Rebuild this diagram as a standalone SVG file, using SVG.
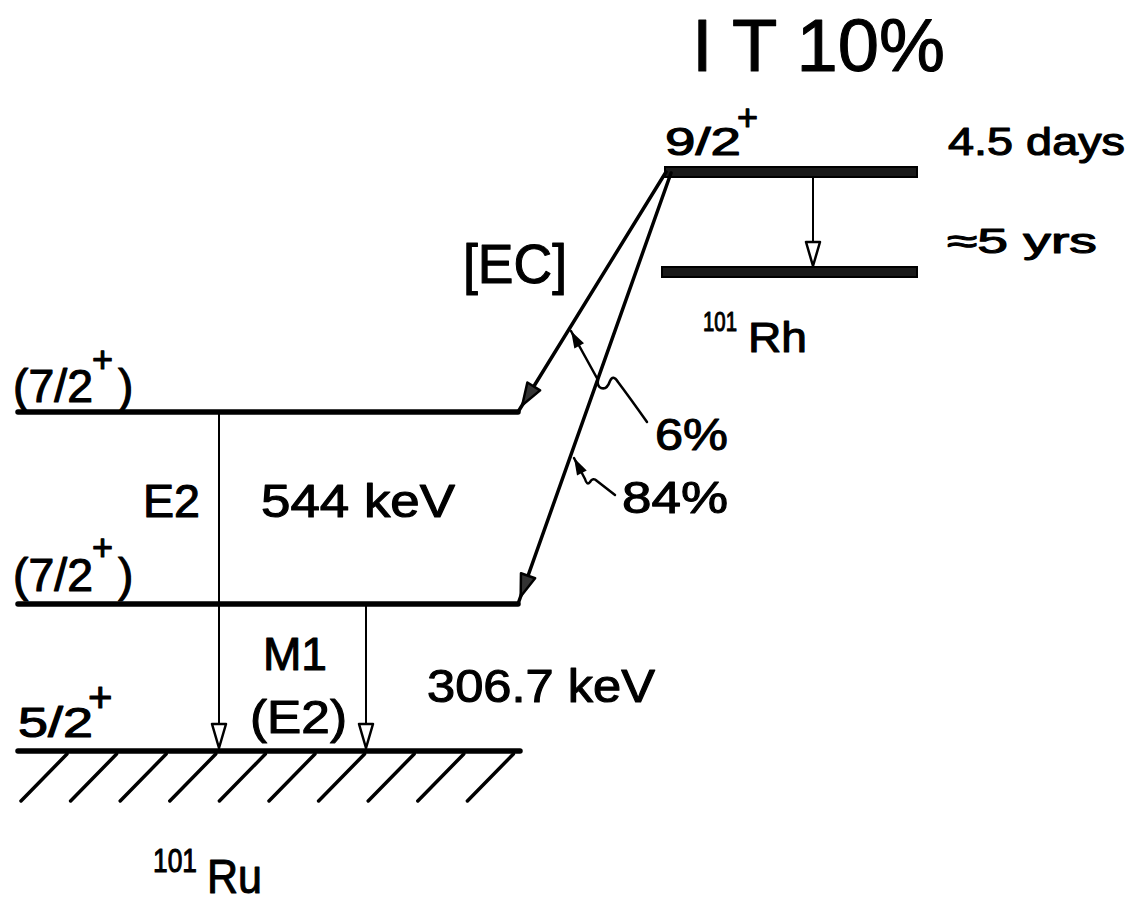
<svg xmlns="http://www.w3.org/2000/svg" width="1135" height="902" viewBox="0 0 1135 902">
<style>
text{font-family:"Liberation Sans",Arial,sans-serif;fill:#000;stroke:#000;stroke-width:1.1;stroke-linejoin:round;}
.lvl{stroke:#000;stroke-width:5.5;stroke-linecap:round;fill:none;}
.bar{fill:#1a1a1a;stroke:#000;stroke-width:2;}
.hatch{stroke:#000;stroke-width:3.5;stroke-linecap:round;}
.gam{stroke:#000;stroke-width:2;fill:none;}
.diag{stroke:#000;stroke-width:3.5;fill:none;stroke-linecap:round;}
.wavy{stroke:#000;stroke-width:2.5;fill:none;stroke-linecap:round;stroke-linejoin:round;}
</style>
<defs>
<marker id="openHead" markerUnits="userSpaceOnUse" viewBox="-3 -10 30 20" markerWidth="30" markerHeight="20" refX="25" refY="0" orient="auto">
<path d="M0,-7 L24,0 L0,7 Z" fill="#fff" stroke="#000" stroke-width="2.5" stroke-linejoin="round"/>
</marker>
<marker id="diagHead" markerUnits="userSpaceOnUse" viewBox="-3 -10 40 20" markerWidth="40" markerHeight="20" refX="30" refY="0" orient="auto">
<path d="M0,-7.5 L22,0 L0,7.5 Z" fill="#333" stroke="#000" stroke-width="2.5" stroke-linejoin="round"/>
</marker>
<marker id="smallHead" markerUnits="userSpaceOnUse" viewBox="-2 -8 22 16" markerWidth="22" markerHeight="16" refX="17" refY="0" orient="auto">
<path d="M0,-5.5 L17,0 L0,5.5 Z" fill="#000"/>
</marker>
</defs>
<rect x="0" y="0" width="1135" height="902" fill="#fff"/>

<g id="title">
<text x="692" y="71" font-size="75" textLength="253" lengthAdjust="spacingAndGlyphs">I T 10%</text>
</g>

<g id="rh-isomer">
<rect class="bar" x="665" y="167" width="252" height="10"/>
<text x="665" y="155" font-size="38" textLength="76" lengthAdjust="spacingAndGlyphs">9/2</text>
<text x="737" y="130" font-size="36">+</text>
<text x="948" y="155" font-size="38" textLength="177" lengthAdjust="spacingAndGlyphs">4.5 days</text>
</g>

<g id="rh-ground">
<rect class="bar" x="662" y="267" width="255" height="10"/>
<text x="947" y="253" font-size="35" textLength="150" lengthAdjust="spacingAndGlyphs">≈5 yrs</text>
<text x="703" y="331" font-size="28" textLength="34" lengthAdjust="spacingAndGlyphs">101</text>
<text x="748" y="352" font-size="42" textLength="59" lengthAdjust="spacingAndGlyphs">Rh</text>
</g>

<g id="ru-level-upper">
<line class="lvl" x1="18" y1="412" x2="518" y2="412"/>
<text x="13" y="402" font-size="46" textLength="80" lengthAdjust="spacingAndGlyphs">(7/2</text>
<text x="92" y="372" font-size="36">+</text>
<text x="118" y="402" font-size="46">)</text>
</g>

<g id="ru-level-middle">
<line class="lvl" x1="18" y1="604" x2="518" y2="604"/>
<text x="13" y="591" font-size="46" textLength="80" lengthAdjust="spacingAndGlyphs">(7/2</text>
<text x="92" y="560" font-size="36">+</text>
<text x="118" y="591" font-size="46">)</text>
</g>

<g id="ru-ground">
<line class="lvl" x1="18" y1="751" x2="520" y2="751"/>
<line class="hatch" x1="21" y1="801" x2="67" y2="754"/>
<line class="hatch" x1="70.6" y1="801" x2="116.6" y2="754"/>
<line class="hatch" x1="120.2" y1="801" x2="166.2" y2="754"/>
<line class="hatch" x1="169.8" y1="801" x2="215.8" y2="754"/>
<line class="hatch" x1="219.4" y1="801" x2="265.4" y2="754"/>
<line class="hatch" x1="269" y1="801" x2="315" y2="754"/>
<line class="hatch" x1="318.6" y1="801" x2="364.6" y2="754"/>
<line class="hatch" x1="368.2" y1="801" x2="414.2" y2="754"/>
<line class="hatch" x1="417.8" y1="801" x2="463.8" y2="754"/>
<line class="hatch" x1="467.4" y1="801" x2="513.4" y2="754"/>
<text x="18" y="737" font-size="42" textLength="75" lengthAdjust="spacingAndGlyphs">5/2</text>
<text x="88" y="712" font-size="42">+</text>
<text x="153" y="872" font-size="34" textLength="44" lengthAdjust="spacingAndGlyphs">101</text>
<text x="207" y="893" font-size="48" textLength="55" lengthAdjust="spacingAndGlyphs">Ru</text>
</g>

<g id="connectors">
<line class="gam" x1="813" y1="177" x2="813" y2="267" marker-end="url(#openHead)"/>
<line class="diag" x1="666" y1="172" x2="518" y2="412" marker-end="url(#diagHead)"/>
<line class="diag" x1="671" y1="173" x2="518" y2="604" marker-end="url(#diagHead)"/>
<line class="gam" x1="219" y1="412" x2="219" y2="749" marker-end="url(#openHead)"/>
<line class="gam" x1="366" y1="604" x2="366" y2="749" marker-end="url(#openHead)"/>
<path class="wavy" d="M647,422 Q630,398 618,382 Q613,374 610,381 Q607,390 601,388 Q597,386 598,380 L571,331" marker-end="url(#smallHead)"/>
<path class="wavy" d="M615,495 L597,481 Q593,477 590,482 Q587,486 585,479 L574,458" marker-end="url(#smallHead)"/>
</g>

<g id="labels">
<text x="463" y="283" font-size="56" textLength="104" lengthAdjust="spacingAndGlyphs">[EC]</text>
<text x="655" y="450" font-size="45" textLength="73" lengthAdjust="spacingAndGlyphs">6%</text>
<text x="622" y="513" font-size="45" textLength="106" lengthAdjust="spacingAndGlyphs">84%</text>
<text x="143" y="517" font-size="46" textLength="57" lengthAdjust="spacingAndGlyphs">E2</text>
<text x="261" y="517" font-size="46" textLength="194" lengthAdjust="spacingAndGlyphs">544 keV</text>
<text x="263" y="670" font-size="46" textLength="64" lengthAdjust="spacingAndGlyphs">M1</text>
<text x="250" y="733" font-size="46" textLength="97" lengthAdjust="spacingAndGlyphs">(E2)</text>
<text x="427" y="702" font-size="46" textLength="228" lengthAdjust="spacingAndGlyphs">306.7 keV</text>
</g>
</svg>
